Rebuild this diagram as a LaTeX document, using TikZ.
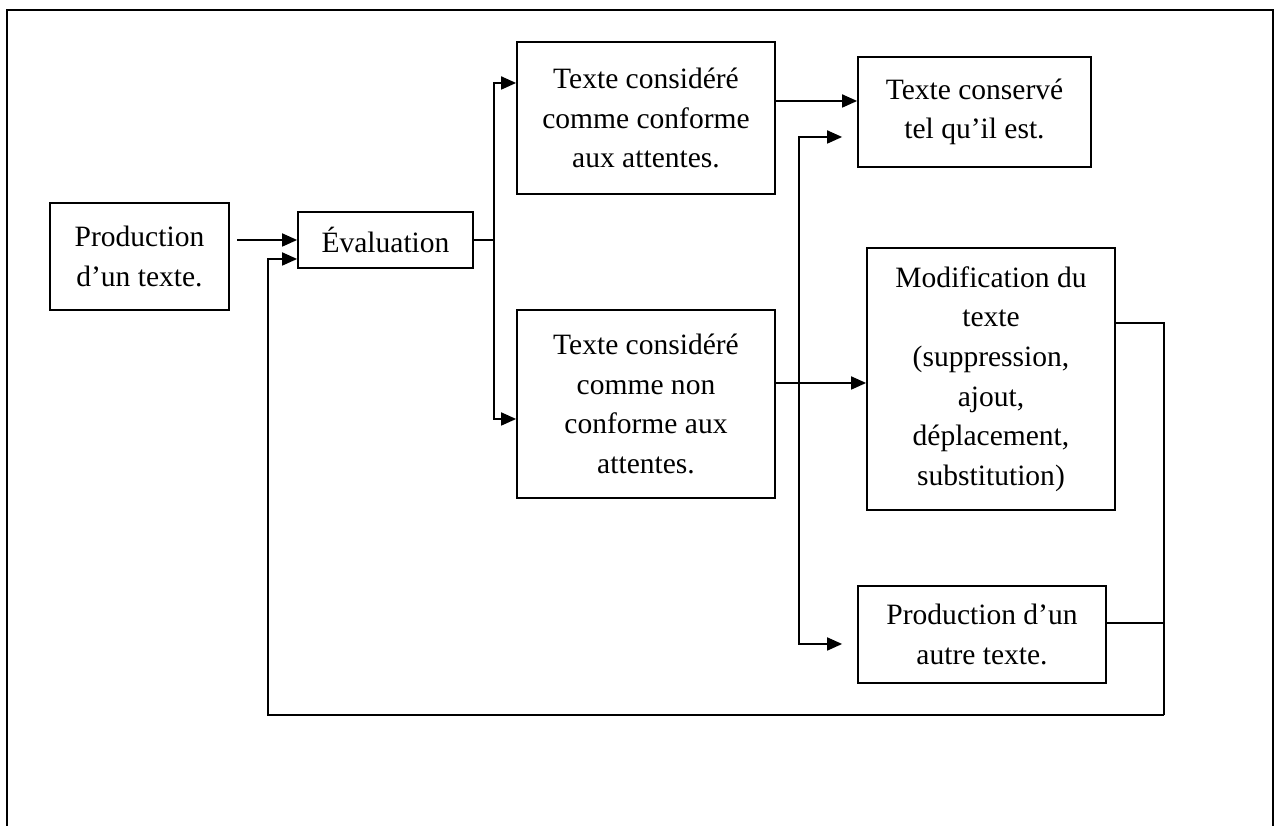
\documentclass[tikz,border=0pt]{standalone}
\usepackage{fontspec}
\setmainfont{Liberation Serif}
\usepackage{tikz}
\usetikzlibrary{arrows.meta}

\begin{document}
\begin{tikzpicture}[
    box/.style={draw,line width=1pt,align=center,inner sep=0pt,
        font=\fontsize{16.8pt}{22.5pt}\selectfont},
    >={Triangle[length=3mm,width=2.6mm]},
    every path/.style={line width=1pt}]
\useasboundingbox (0,0) rectangle (25.54,16.52);
\draw[line width=1.5pt] (0.14,0) |- (25.46,16.32) -- (25.46,0);
%%%%

\node[box,minimum width=3.58cm,minimum height=2.14cm] (prod) at (2.79,11.39) {Production\\d’un texte.};
\node[box,minimum width=3.5cm,minimum height=1.12cm] (eval) at (7.71,11.72) {Évaluation};
\node[box,minimum width=5.16cm,minimum height=3.04cm] (conf) at (12.92,14.16) {Texte considéré\\comme conforme\\aux attentes.};
\node[box,minimum width=5.16cm,minimum height=3.76cm] (nonconf) at (12.92,8.44) {Texte considéré\\comme non\\conforme aux\\attentes.};
\node[box,minimum width=4.66cm,minimum height=2.2cm] (keep) at (19.49,14.28) {Texte conservé\\tel qu’il est.};
\node[box,minimum width=4.96cm,minimum height=5.24cm] (modif) at (19.82,8.94) {Modification du\\texte\\(suppression,\\ajout,\\déplacement,\\substitution)};
\node[box,minimum width=4.96cm,minimum height=1.94cm] (other) at (19.64,3.83) {Production d’un\\autre texte.};
%
\coordinate (P) at (4.74,11.72);
\draw[->] (P) -- (eval.west);
%Branch after evaluation
\coordinate (E) at (9.88,11.72);
\draw (eval.east) -- (E);
\draw[->] (E) |- ([yshift=0.7cm]conf.west);
\draw[->] (E) |- ([yshift=-0.3cm]nonconf.west);
%
\draw[->] ([yshift=0.34cm]conf.east) -- ([yshift=0.34cm]conf.east -| keep.west);
\draw[->] ([yshift=0.42cm]nonconf.east) -- ([yshift=0.42cm]nonconf.east -| modif.west);
\coordinate (V) at (15.98,8.86);
\draw[->] (V) |- ([xshift=-0.3cm,yshift=-0.5cm]keep.west);
\draw[->] (V) |- ([xshift=-0.3cm,yshift=-0.19cm]other.west);
%%%Return to evaluation
\coordinate (R) at (23.28,2.22);
\draw ([yshift=1.12cm]modif.east) -| (R);
\draw ([yshift=0.23cm]other.east) -- ([yshift=0.23cm]other.east -| R);
\draw[->] (R) -| (5.36,11.34) -- ([yshift=-0.38cm]eval.west);
\end{tikzpicture}
\end{document}
